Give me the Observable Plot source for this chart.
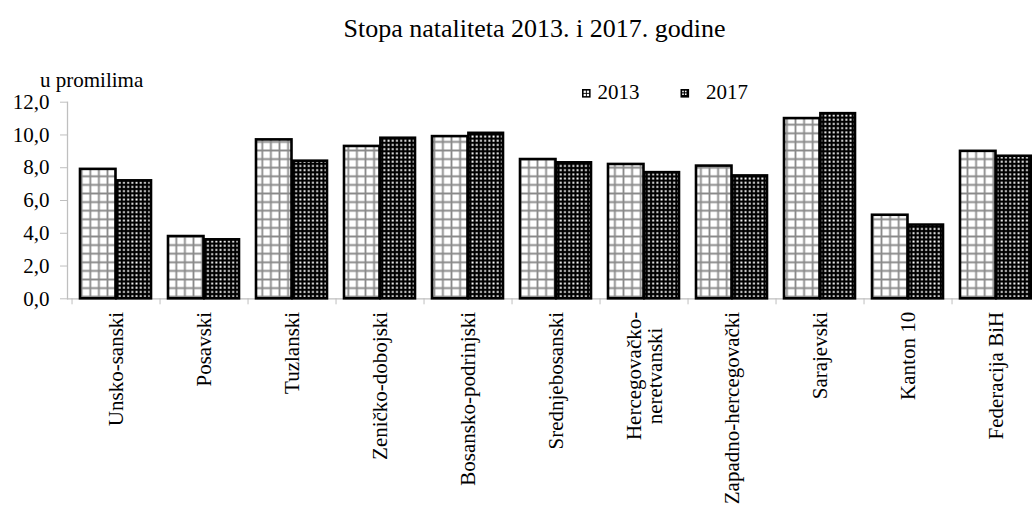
<!DOCTYPE html>
<html><head><meta charset="utf-8">
<script src="https://cdn.jsdelivr.net/npm/d3@7"></script>
<script src="https://cdn.jsdelivr.net/npm/@observablehq/plot@0.6"></script>
<style>
html,body{margin:0;padding:0;background:#fff;overflow:hidden;width:1032px;height:505px;}
#chart{position:relative;width:1032px;height:505px;overflow:hidden;}
#chart svg{max-width:none !important;width:1069px !important;height:505px !important;font-family:"Liberation Serif","Times New Roman",serif !important;}
#chart svg text{font-family:"Liberation Serif","Times New Roman",serif !important;}
</style></head><body><div id="chart"></div>
<script>
const regions = ["Unsko-sanski","Posavski","Tuzlanski","Zeničko-dobojski","Bosansko-podrinjski","Srednjebosanski","Hercegovačko-neretvanski","Zapadno-hercegovački","Sarajevski","Kanton 10","Federacija BiH"];
const rate2013 = [7.9, 3.8, 9.7, 9.3, 9.9, 8.5, 8.2, 8.1, 11.0, 5.1, 9.0];
const rate2017 = [7.2, 3.6, 8.4, 9.8, 10.1, 8.3, 7.7, 7.5, 11.3, 4.5, 8.7];
const years = ["2013", "2017"];
const yTicks = [0, 2, 4, 6, 8, 10, 12];
const titleText = "Stopa nataliteta 2013. i 2017. godine";
const yLabelText = "u promilima";

const d2013 = regions.map((r, i) => ({region: r, year: years[0], value: rate2013[i]}));
const d2017 = regions.map((r, i) => ({region: r, year: years[1], value: rate2017[i]}));

const W = 1069, H = 505, mL = 67, mR = 24;
const step = (W - mL - mR) / regions.length;
const gray = "#bfbfbf";
const fmtX = d => d === "Hercegovačko-neretvanski" ? "Hercegovačko-\nneretvanski\u2002\u2005" : d;

const plot = Plot.plot({
  width: W, height: H,
  marginLeft: mL, marginRight: mR, marginTop: 101.7, marginBottom: 206.7,
  x: {domain: regions, padding: 0},
  y: {domain: [0, 12]},
  style: {fontSize: "21px", color: "#000", background: "#fff", overflow: "visible"},
  marks: [
    Plot.frame({anchor: "left", stroke: gray, strokeWidth: 1.3}),
    Plot.ruleY([0], {stroke: gray, strokeWidth: 1.3}),
    Plot.axisY({ticks: yTicks, tickFormat: d => d.toFixed(1).replace(".", ","), tickSize: 7, tickPadding: 11, stroke: gray, fill: "#000", label: null, fontSize: 21}),
    Plot.axisX({tickSize: 6, tickFormat: () => "", dx: -step / 2, stroke: gray, label: null}),
    Plot.axisX({tickSize: 0, tickPadding: 13, tickRotate: -90, tickFormat: fmtX, fill: "#000", label: null, fontSize: 21}),
    Plot.barY(d2013, {x: "region", y: "value", fill: "url(#pat2013)", stroke: "#000", strokeWidth: 2.6, insetLeft: 8, insetRight: step - 44.4}),
    Plot.barY(d2017, {x: "region", y: "value", fill: "url(#pat2017)", stroke: "#000", strokeWidth: 2.6, insetLeft: 44.4, insetRight: 9})
  ]
});

const svg = d3.select(plot);
svg.insert("defs", ":first-child").html(
  '<pattern id="pat2013" patternUnits="userSpaceOnUse" width="8.6" height="8.6">' +
    '<rect width="8.6" height="8.6" fill="#fff"/>' +
    '<path d="M4.3,0V8.6M0,4.3H8.6" stroke="#8a8a8a" stroke-width="1.8"/>' +
  '</pattern>' +
  '<pattern id="pat2017" patternUnits="userSpaceOnUse" width="4.2" height="4.2">' +
    '<rect width="4.2" height="4.2" fill="#000"/>' +
    '<rect x="1.2" y="1.2" width="1.9" height="1.9" fill="#fff"/>' +
  '</pattern>'
);

svg.append("text").attr("x", 534.5).attr("y", 36.5).attr("text-anchor", "middle")
  .attr("font-size", 26).attr("fill", "#000").text(titleText);
svg.append("text").attr("x", 40).attr("y", 87).attr("text-anchor", "start")
  .attr("font-size", 21).attr("fill", "#000").text(yLabelText);

// legend
const lg = svg.append("g").attr("text-anchor", "start");
const sw1 = lg.append("g").attr("transform", "translate(582,89)");
sw1.append("rect").attr("width", 8.6).attr("height", 8.6).attr("fill", "#000");
[[1.6,1.6],[4.8,1.6],[1.6,4.8],[4.8,4.8]].forEach(([x,y]) => sw1.append("rect").attr("x", x).attr("y", y).attr("width", 2.3).attr("height", 2.3).attr("fill", "#fff"));
lg.append("text").attr("x", 597.5).attr("y", 99).attr("text-anchor", "start").attr("font-size", 21).attr("fill", "#000").text(years[0]);
const sw2 = lg.append("g").attr("transform", "translate(680.5,89)");
sw2.append("rect").attr("width", 8.6).attr("height", 8.6).attr("fill", "#000");
[1.7, 4.4].forEach(x => [1.7, 4.4].forEach(y => sw2.append("rect").attr("x", x).attr("y", y).attr("width", 1.6).attr("height", 1.6).attr("fill", "#fff")));
lg.append("text").attr("x", 706).attr("y", 99).attr("text-anchor", "start").attr("font-size", 21).attr("fill", "#000").text(years[1]);

document.getElementById("chart").appendChild(plot);
</script></body></html>
